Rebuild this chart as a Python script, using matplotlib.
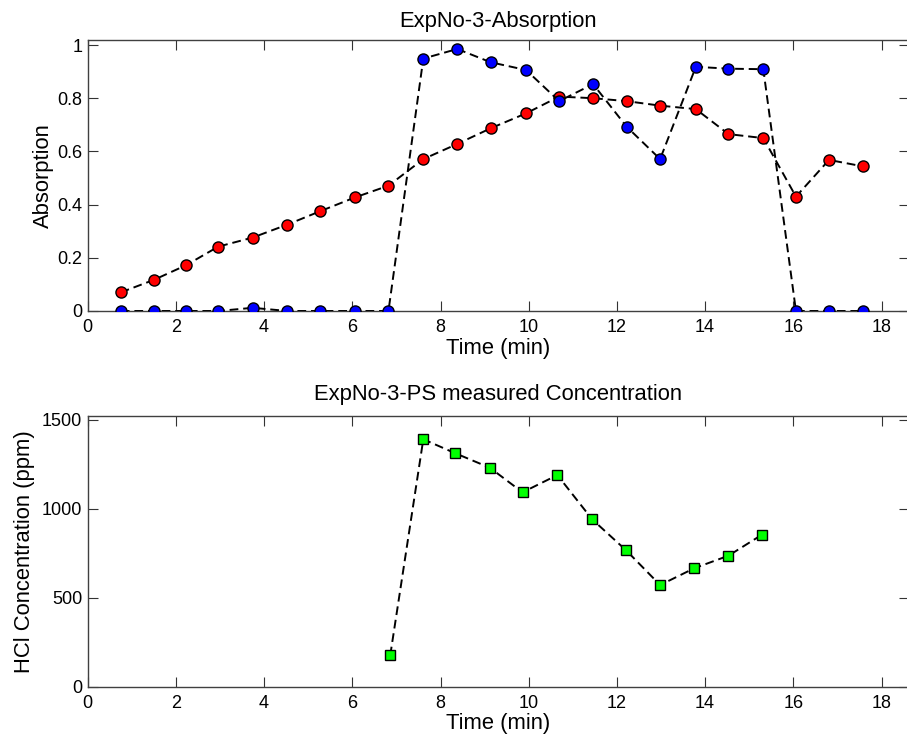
import matplotlib
matplotlib.use("Agg")
import matplotlib.pyplot as plt

plt.rcParams['font.family'] = ['Liberation Sans', 'DejaVu Sans']

# Data
time_abs = [0.75, 1.50, 2.23, 2.96, 3.74, 4.53, 5.27, 6.06, 6.82, 7.61, 8.38, 9.14,
            9.94, 10.69, 11.46, 12.22, 12.98, 13.79, 14.53, 15.32, 16.06, 16.81, 17.57]
abs_red = [0.070, 0.117, 0.172, 0.242, 0.276, 0.325, 0.375, 0.427, 0.471, 0.571, 0.628, 0.687,
           0.743, 0.806, 0.800, 0.789, 0.772, 0.759, 0.665, 0.650, 0.430, 0.568, 0.544]
abs_blue = [0.0, 0.0, 0.0, 0.0, 0.012, 0.0, 0.0, 0.0, 0.0, 0.949, 0.985, 0.935,
            0.906, 0.789, 0.853, 0.693, 0.571, 0.918, 0.911, 0.909, 0.0, 0.0, 0.0]

time_conc = [6.86, 7.61, 8.34, 9.12, 9.86, 10.65, 11.44, 12.21, 12.98, 13.75, 14.53, 15.29]
conc_hcl = [176, 1390, 1311, 1230, 1092, 1189, 940, 766, 571, 665, 736, 854]

x_ticks = [0, 2, 4, 6, 8, 10, 12, 14, 16, 18]
abs_ticks = [0, 0.2, 0.4, 0.6, 0.8, 1]
conc_ticks = [0, 500, 1000, 1500]

FS_TICK = 13
FS_LAB = 15.8
W, H = 907, 742
fig = plt.figure(figsize=(W / 100, H / 100), dpi=100)

left = 87.7 / W
right = 908.5 / W
ax1 = fig.add_axes([left, 1 - 311 / H, right - left, (311 - 40) / H])
ax2 = fig.add_axes([left, 1 - 686.7 / H, right - left, (686.7 - 415.7) / H])

dash = (4.5, 2.5)
ax1.plot(time_abs, abs_red, color='black', lw=1.4, dashes=dash,
         marker='o', ms=8, mfc='#ff0000', mec='black', mew=1, zorder=2)
ax1.plot(time_abs, abs_blue, color='black', lw=1.4, dashes=dash,
         marker='o', ms=8, mfc='#0000ff', mec='black', mew=1, zorder=3)
ax2.plot(time_conc, conc_hcl, color='black', lw=1.4, dashes=dash,
         marker='s', ms=7, mfc='#00ff00', mec='black', mew=1, zorder=3)

xmax = (908.5 - 87.7) / 44.1
ax1.set_xlim(0, xmax)
ax1.set_ylim(0, (311 - 40) / 266.0)
ax2.set_xlim(0, xmax)
ax2.set_ylim(0, 1500 + 4 / 89 * 500)

ax1.set_yticks(abs_ticks)
ax1.set_yticklabels(['0', '0.2', '0.4', '0.6', '0.8', '1'])
ax2.set_yticks(conc_ticks)
for ax in (ax1, ax2):
    ax.set_xticks(x_ticks)
    ax.tick_params(direction='in', length=7, width=0.8, top=True, right=True,
                   labelsize=FS_TICK, color='#333333', pad=6)
    ax.tick_params(axis='y', pad=4)
    for s in ax.spines.values():
        s.set_color('#404040')
        s.set_linewidth(1.0)
    ax.set_xlabel('Time (min)', fontsize=FS_LAB, labelpad=1)

ax1.set_ylabel('Absorption', fontsize=FS_LAB, labelpad=2)
ax2.set_ylabel('HCl Concentration (ppm)', fontsize=FS_LAB, labelpad=5)
ax1.set_title('ExpNo-3-Absorption', fontsize=FS_LAB, pad=9.5)
ax2.set_title('ExpNo-3-PS measured Concentration', fontsize=FS_LAB, pad=11)

fig.savefig('out.png', dpi=100)
